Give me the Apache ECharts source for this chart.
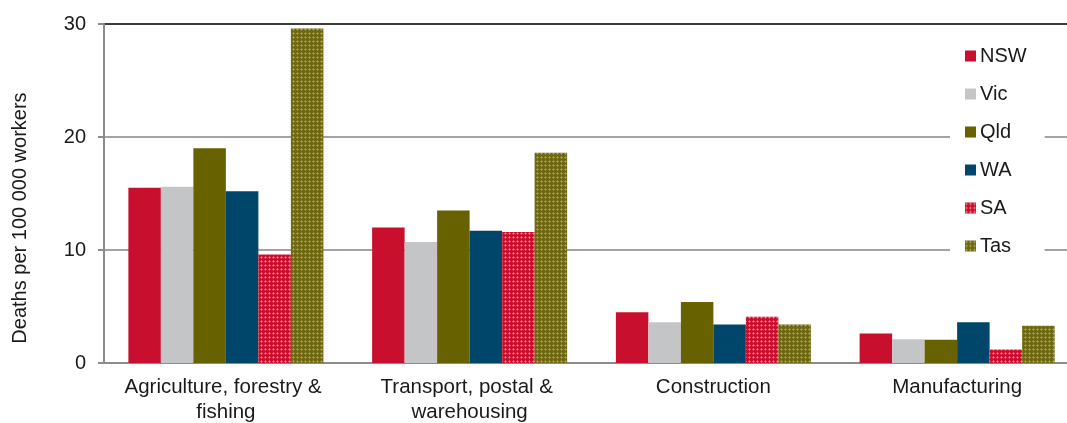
<!DOCTYPE html>
<html>
<head>
<meta charset="utf-8">
<script src="https://cdn.jsdelivr.net/npm/echarts@6/dist/echarts.min.js"></script>
<style>
  html, body { margin: 0; padding: 0; background: #fff; overflow: hidden; }
  #chart { width: 1080px; height: 423px; }
</style>
</head>
<body>
<div id="chart"></div>
<script>
// Work-related fatality rates by industry and state
const categories = [
  'Agriculture, forestry & fishing',
  'Transport, postal & warehousing',
  'Construction',
  'Manufacturing'
];
const states = ['NSW', 'Vic', 'Qld', 'WA', 'SA', 'Tas'];
const nsw = [15.5, 12.0, 4.5, 2.6];
const vic = [15.6, 10.7, 3.6, 2.1];
const qld = [19.0, 13.5, 5.4, 2.05];
const wa  = [15.2, 11.7, 3.4, 3.6];
const sa  = [9.6, 11.6, 4.1, 1.2];
const tas = [29.6, 18.6, 3.4, 3.3];
const yTicks = [0, 10, 20, 30];

// Small tiled fill: solid base with lighter plus-shaped dots
function crossPattern(base, light, mid) {
  const c = document.createElement('canvas');
  c.width = 4; c.height = 4;
  const g = c.getContext('2d');
  g.fillStyle = base; g.fillRect(0, 0, 4, 4);
  g.fillStyle = mid;
  g.fillRect(1, 0, 1, 1); g.fillRect(0, 1, 1, 1);
  g.fillRect(2, 1, 1, 1); g.fillRect(1, 2, 1, 1);
  g.fillStyle = light;
  g.fillRect(1, 1, 1, 1);
  return { image: c, repeat: 'repeat' };
}

const fills = [
  '#C8102E',
  '#C4C5C7',
  '#676100',
  '#00466B',
  crossPattern('#C8102E', 'rgba(250,150,170,0.85)', 'rgba(230,90,115,0.9)'),
  crossPattern('#6E6812', 'rgba(190,182,100,0.85)', 'rgba(150,144,60,0.9)')
];
const values = [nsw, vic, qld, wa, sa, tas];

const font = 'Liberation Sans, Arial, sans-serif';
const chart = echarts.init(document.getElementById('chart'), null, { renderer: 'canvas' });

chart.setOption({
  animation: false,
  backgroundColor: '#ffffff',
  textStyle: { fontFamily: font },
  grid: {
    left: 104, top: 24, width: 975, height: 339,
    containLabel: false,
    outerBoundsMode: 'none'
  },
  legend: {
    orient: 'vertical',
    left: 950,
    top: 36,
    padding: [10, 18, 10, 15],
    backgroundColor: '#ffffff',
    itemWidth: 11,
    itemHeight: 11,
    itemGap: 18,
    icon: 'rect',
    textStyle: { fontSize: 20, color: '#1a1a1a', fontFamily: font, padding: [0, 0, 0, -1] },
    data: states
  },
  xAxis: {
    type: 'category',
    data: categories,
    axisLine: { lineStyle: { color: '#8c8c8c', width: 2 } },
    axisTick: { show: false },
    axisLabel: {
      fontSize: 20.5,
      color: '#1a1a1a',
      fontFamily: font,
      margin: 12,
      lineHeight: 25,
      width: 225,
      overflow: 'break',
      interval: 0
    }
  },
  yAxis: {
    type: 'value',
    min: yTicks[0],
    max: yTicks[yTicks.length - 1],
    interval: 10,
    axisLine: { show: true, lineStyle: { color: '#8c8c8c', width: 2 } },
    axisTick: { show: true, inside: false, length: 6, lineStyle: { color: '#8c8c8c', width: 2 } },
    axisLabel: { fontSize: 20, color: '#1a1a1a', fontFamily: font, margin: 18 },
    splitLine: {
      show: true,
      lineStyle: { color: ['#a3a3a3', '#a3a3a3', '#a3a3a3', '#3c3c3c'], width: 2 }
    }
  },
  graphic: [{
    type: 'text',
    x: 20,
    y: 218,
    rotation: Math.PI / 2,
    style: {
      text: 'Deaths per 100 000 workers',
      fontSize: 20,
      fontFamily: font,
      fill: '#1a1a1a',
      align: 'center',
      verticalAlign: 'middle'
    }
  }],
  series: states.map((name, i) => ({
    name,
    type: 'bar',
    data: values[i],
    barGap: '0%',
    barCategoryGap: '20%',
    itemStyle: { color: fills[i] }
  }))
});
</script>
</body>
</html>
